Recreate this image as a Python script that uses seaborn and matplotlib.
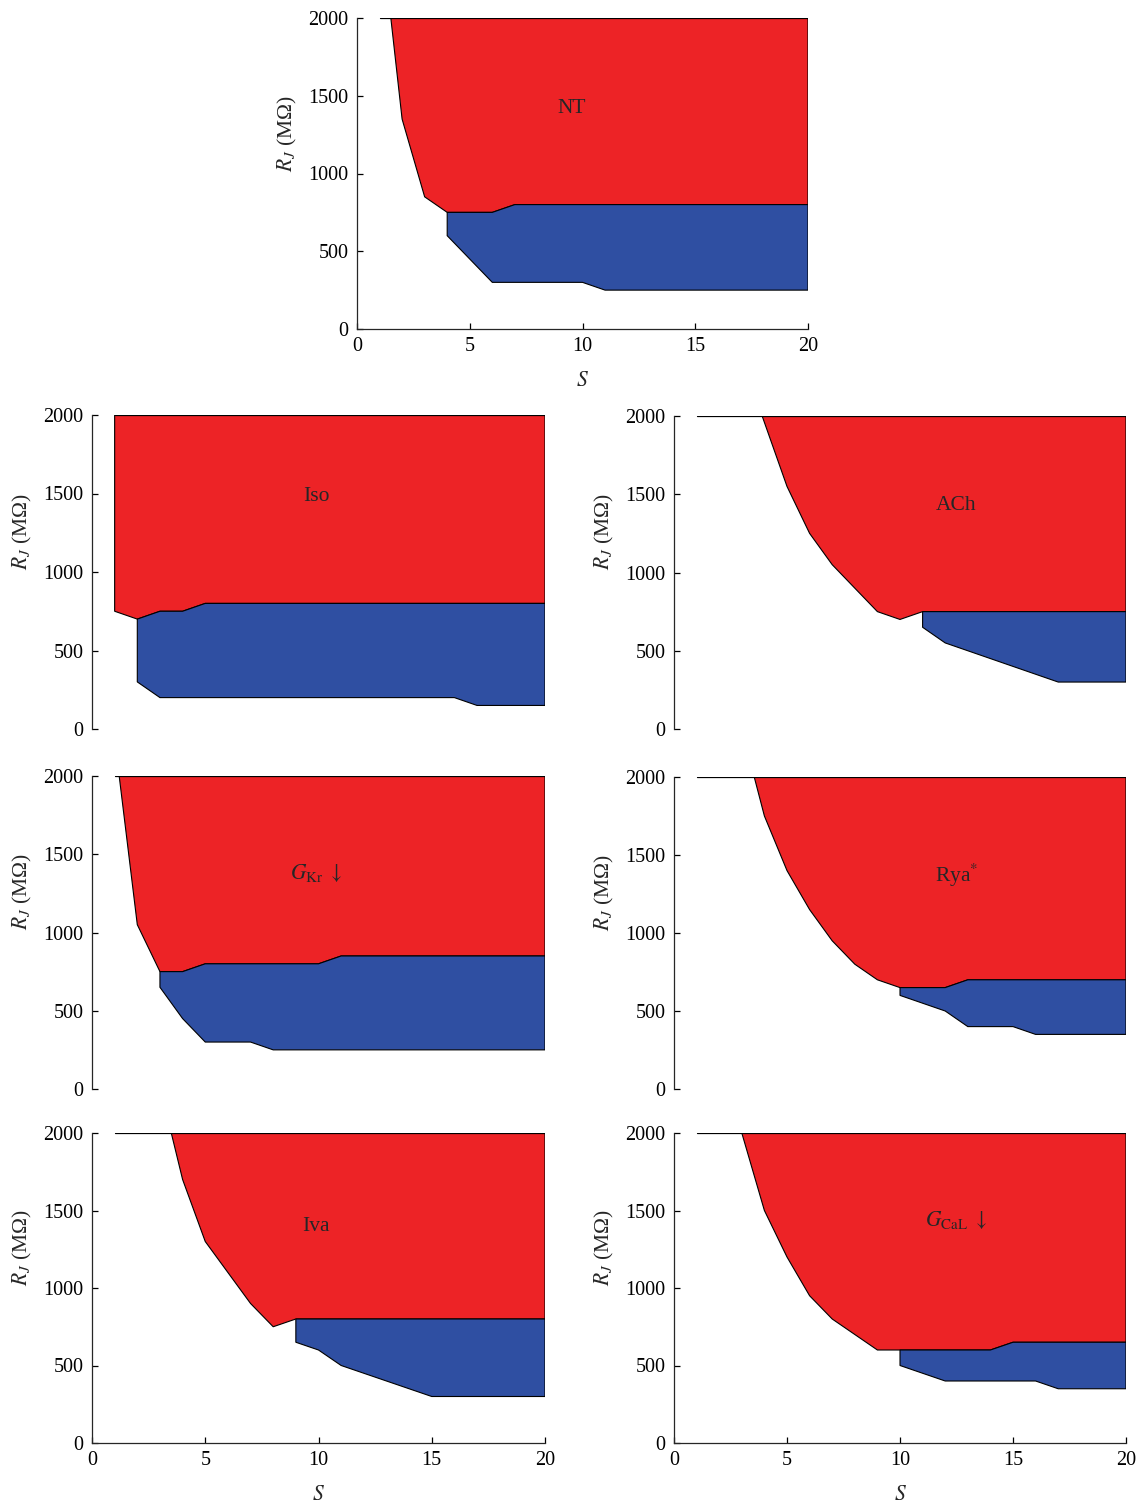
import numpy as np
import matplotlib
matplotlib.use("Agg")
import matplotlib.pyplot as plt
import seaborn as sns
import pandas as pd

# ---------------- data ----------------
S_ticks = [0, 5, 10, 15, 20]
R_ticks = [0, 500, 1000, 1500, 2000]

# each panel: left edge of red region, red/blue boundary, lower edge of blue region
NT_edge_S = [1.5, 2, 3, 4];            NT_edge_R = [2000, 1350, 850, 750]
NT_mid_S = [4, 6, 7, 20];              NT_mid_R = [750, 750, 800, 800]
NT_low_S = [4, 5, 6, 10, 11, 20];      NT_low_R = [600, 450, 300, 300, 250, 250]

Iso_edge_S = [1, 1, 2];                Iso_edge_R = [2000, 750, 700]
Iso_mid_S = [2, 3, 4, 5, 20];          Iso_mid_R = [700, 750, 750, 800, 800]
Iso_low_S = [2, 3, 16, 17, 20];        Iso_low_R = [300, 200, 200, 150, 150]

ACh_edge_S = [3.9, 5, 6, 7, 8, 9, 10, 11]
ACh_edge_R = [2000, 1550, 1250, 1050, 900, 750, 700, 750]
ACh_mid_S = [11, 20];                  ACh_mid_R = [750, 750]
ACh_low_S = [11, 12, 17, 20];          ACh_low_R = [650, 550, 300, 300]

GKr_edge_S = [1.2, 2, 3];              GKr_edge_R = [2000, 1050, 750]
GKr_mid_S = [3, 4, 5, 10, 11, 20];     GKr_mid_R = [750, 750, 800, 800, 850, 850]
GKr_low_S = [3, 4, 5, 7, 8, 20];       GKr_low_R = [650, 450, 300, 300, 250, 250]

Rya_edge_S = [3.55, 4, 5, 6, 7, 8, 9, 10]
Rya_edge_R = [2000, 1750, 1400, 1150, 950, 800, 700, 650]
Rya_mid_S = [10, 12, 13, 20];          Rya_mid_R = [650, 650, 700, 700]
Rya_low_S = [10, 12, 13, 15, 16, 20];  Rya_low_R = [600, 500, 400, 400, 350, 350]

Iva_edge_S = [3.5, 4, 5, 7, 8, 9];     Iva_edge_R = [2000, 1700, 1300, 900, 750, 800]
Iva_mid_S = [9, 20];                   Iva_mid_R = [800, 800]
Iva_low_S = [9, 10, 11, 15, 20];       Iva_low_R = [650, 600, 500, 300, 300]

CaL_edge_S = [3, 4, 5, 6, 7, 9];       CaL_edge_R = [2000, 1500, 1200, 950, 800, 600]
CaL_mid_S = [9, 14, 15, 20];           CaL_mid_R = [600, 600, 650, 650]
CaL_low_S = [10, 12, 16, 17, 20];      CaL_low_R = [500, 400, 400, 350, 350]
CaL_blue_start = [10, 600]

labels = ["NT", "Iso", "ACh", r"$G_{\mathrm{Kr}}\ \downarrow$", r"Rya$^{*}$", "Iva",
          r"$G_{\mathrm{CaL}}\ \downarrow$"]
label_S = [9.5, 9.9, 12.5, 9.9, 12.5, 9.9, 12.5]
label_R = [1420, 1480, 1425, 1380, 1370, 1395, 1440]
line_start_S = [1, 1, 1, 1, 1, 1, 1]

RED = "#ed2326"
BLUE = "#2f4fa2"

# ---------------- style ----------------
sns.set_theme(style="ticks")
plt.rcParams["font.family"] = ["Liberation Serif", "DejaVu Serif"]
plt.rcParams["mathtext.fontset"] = "stix"
plt.rcParams["axes.linewidth"] = 0.9

fig = plt.figure(figsize=(11.46, 15.04), dpi=100)
W, H = 1146, 1504


def add_ax(x0, x1, ytop, ybot):
    return fig.add_axes([x0 / W, 1 - ybot / H, (x1 - x0) / W, (ybot - ytop) / H])


axes = [
    add_ax(357, 808, 18, 329),
    add_ax(92, 545, 415, 729),
    add_ax(674, 1126, 416, 729),
    add_ax(92, 545, 776, 1089),
    add_ax(674, 1126, 777, 1089),
    add_ax(92, 545, 1133, 1443),
    add_ax(674, 1126, 1133, 1443),
]

panels = [
    (NT_edge_S, NT_edge_R, NT_mid_S, NT_mid_R, NT_low_S, NT_low_R),
    (Iso_edge_S, Iso_edge_R, Iso_mid_S, Iso_mid_R, Iso_low_S, Iso_low_R),
    (ACh_edge_S, ACh_edge_R, ACh_mid_S, ACh_mid_R, ACh_low_S, ACh_low_R),
    (GKr_edge_S, GKr_edge_R, GKr_mid_S, GKr_mid_R, GKr_low_S, GKr_low_R),
    (Rya_edge_S, Rya_edge_R, Rya_mid_S, Rya_mid_R, Rya_low_S, Rya_low_R),
    (Iva_edge_S, Iva_edge_R, Iva_mid_S, Iva_mid_R, Iva_low_S, Iva_low_R),
    (CaL_edge_S, CaL_edge_R, CaL_mid_S, CaL_mid_R, CaL_low_S, CaL_low_R),
]

show_x = [True, False, False, False, False, True, True]

for i, (ax, pan) in enumerate(zip(axes, panels)):
    eS, eR, mS, mR, lS, lR = pan
    # red region polygon
    rx = list(eS) + list(mS[1:]) + [20]
    ry = list(eR) + list(mR[1:]) + [2000]
    ax.fill(rx, ry, facecolor=RED, edgecolor="black", linewidth=0.8, zorder=2)
    # blue region polygon
    if i == 6:
        bx = [CaL_blue_start[0]] + [s for s in mS if s > CaL_blue_start[0]] + lS[::-1]
        by = [CaL_blue_start[1]] + [r for s, r in zip(mS, mR) if s > CaL_blue_start[0]] + lR[::-1]
    else:
        bx = list(mS) + lS[::-1]
        by = list(mR) + lR[::-1]
    ax.fill(bx, by, facecolor=BLUE, edgecolor="black", linewidth=0.8, zorder=2)
    # top line at 2000
    top = pd.DataFrame({"S": [line_start_S[i], 20], "R": [2000, 2000]})
    sns.lineplot(data=top, x="S", y="R", color="black", linewidth=0.9, ax=ax,
                 sort=False, estimator=None, zorder=3)

    ax.text(label_S[i], label_R[i], labels[i], ha="center", va="center", fontsize=15.5)

    ax.set_xlim(0, 20)
    ax.set_ylim(0, 2000)
    ax.set_yticks(R_ticks)
    ax.set_xticks(S_ticks)
    ax.tick_params(direction="in", length=4, width=0.9, labelsize=14.5, pad=6,
                   colors="black")
    for side in ["top", "right"]:
        ax.spines[side].set_visible(False)
    ax.set_ylabel(r"$R_J$ (MΩ)", fontsize=15.5)
    ax.yaxis.set_label_coords(-0.128, 0.63)
    if show_x[i]:
        ax.set_xlabel(r"$S$", fontsize=15.5, labelpad=11)
    else:
        ax.spines["bottom"].set_visible(False)
        ax.tick_params(axis="x", bottom=False, labelbottom=False)
        ax.set_xlabel("")
    ax.set_facecolor("white")

fig.savefig("out.png", dpi=100, facecolor="white")
